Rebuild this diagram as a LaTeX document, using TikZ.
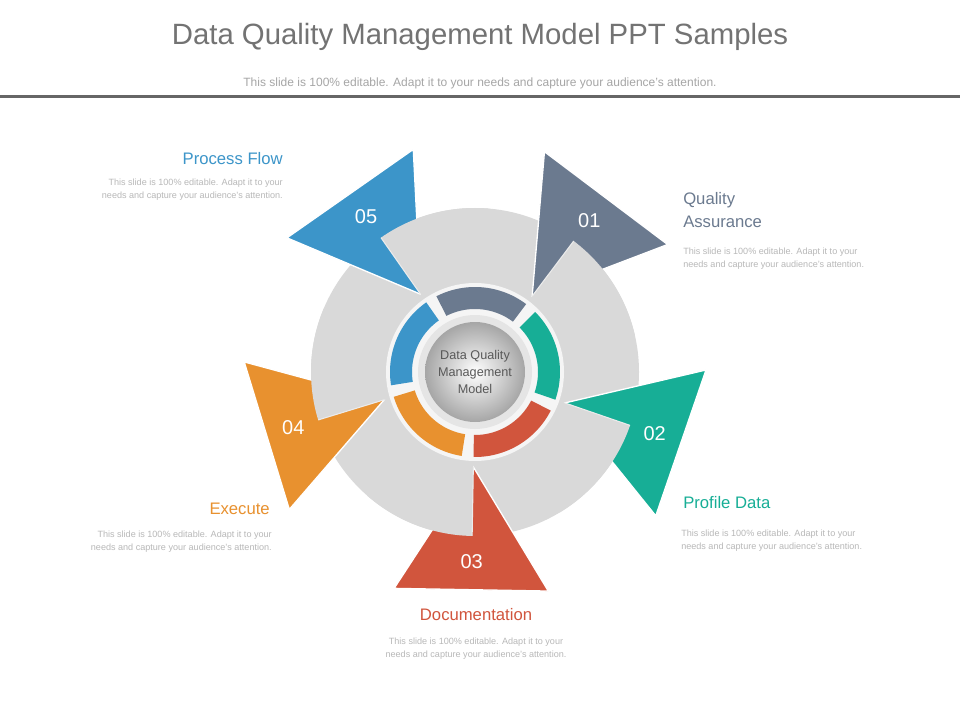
\documentclass[tikz,border=0pt]{standalone}
\usepackage{fontspec}
\setmainfont{Liberation Sans}
\begin{document}
\begin{tikzpicture}[x=0.75pt,y=-0.75pt,
  desc/.style={text=black!28,font=\fontsize{6.8}{9.6}\selectfont,inner sep=0pt},
  head/.style={font=\fontsize{12.5}{17}\selectfont,inner sep=0pt},
  num/.style={text=white,font=\fontsize{15}{18}\selectfont}]
\definecolor{c1}{HTML}{6B7A8F}
\definecolor{c2}{HTML}{17AE96}
\definecolor{c3}{HTML}{D1553D}
\definecolor{c4}{HTML}{E8912F}
\definecolor{c5}{HTML}{3C95C9}
\definecolor{sect}{HTML}{D9D9D9}
\useasboundingbox (0,0) rectangle (960,720);
\fill[white] (0,0) rectangle (960,720);
% title
\node[text=black!55,font=\fontsize{22}{26}\selectfont] (title) at (480,37) {Data Quality Management Model PPT Samples};
\node[text=black!35,font=\fontsize{9}{11}\selectfont] (sub) at (480,83) {This slide is 100\% editable. Adapt it to your needs and capture your audience's attention.};
\fill[black!60] (0,95) rectangle (960,98.5);
\coordinate (C) at (475,372);
% gray disk
\fill[sect] (C) circle (164);
% triangles
\foreach \a/\c/\n in {53/c1/01,341/c2/02,269/c3/03,197/c4/04,125/c5/05}{
  \fill[\c, draw=white, line width=1pt] ({475+95*cos(\a)},{372-95*sin(\a)}) --
     ({475+231*cos(\a+19.5)},{372-231*sin(\a+19.5)}) --
     ({475+231*cos(\a-19.5)},{372-231*sin(\a-19.5)}) -- cycle;
  \node[num] (n\n) at ({475+190*cos(\a)},{372-190*sin(\a)}) {\n};
}
% sector wedges covering clockwise halves
\foreach \a in {53,341,269,197,125}{
  \fill[sect] (C) -- plot[domain=\a-40:\a,samples=30] ({475+164*cos(\x)},{372-164*sin(\x)}) -- cycle;
  \draw[white!92!black, line width=0.8pt] ({475+95*cos(\a)},{372-95*sin(\a)}) -- ({475+164*cos(\a)},{372-164*sin(\a)});
}
% inner ring
\fill[white!96!black] (C) circle (89);
\foreach \m/\c in {85/c1,13/c2,-59/c3,-131/c4,157/c5}{
  \fill[\c] plot[domain=\m-32:\m+32,samples=30] ({475+85*cos(\x)},{372-85*sin(\x)}) --
    plot[domain=\m+32:\m-32,samples=30] ({475+63*cos(\x)},{372-63*sin(\x)}) -- cycle;
}
\fill[black!10] (C) circle (57);
\shade[inner color=white, outer color=black!35] (C) circle (50);
\node[text=black!65,font=\fontsize{9.5}{13}\selectfont,align=center] (center) at (C) {Data Quality\\Management\\Model};
% labels
\node[head,text=c5,anchor=east] (h5) at (283,159) {Process Flow};
\node[desc,anchor=north east,align=right] (d5) at (283,179) {This slide is 100\% editable. Adapt it to your\\needs and capture your audience's attention.};
\node[head,text=c1,anchor=north west,align=left] (h1) at (683,192) {Quality\\Assurance};
\node[desc,anchor=north west,align=left] (d1) at (683,248) {This slide is 100\% editable. Adapt it to your\\needs and capture your audience's attention.};
\node[head,text=c2,anchor=west] (h2) at (683,503) {Profile Data};
\node[desc,anchor=north west,align=left] (d2) at (681,530) {This slide is 100\% editable. Adapt it to your\\needs and capture your audience's attention.};
\node[head,text=c3] (h3) at (476,615) {Documentation};
\node[desc,align=center] (d3) at (476,649) {This slide is 100\% editable. Adapt it to your\\needs and capture your audience's attention.};
\node[head,text=c4,anchor=east] (h4) at (270,509) {Execute};
\node[desc,anchor=north east,align=right] (d4) at (272,531) {This slide is 100\% editable. Adapt it to your\\needs and capture your audience's attention.};
\end{tikzpicture}
\end{document}
